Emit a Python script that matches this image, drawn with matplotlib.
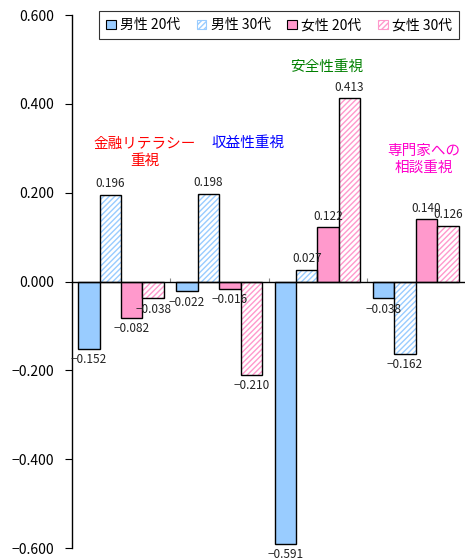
import matplotlib
matplotlib.use("Agg")
import matplotlib.pyplot as plt
import numpy as np
from matplotlib.patches import Patch

plt.rcParams['font.family'] = ['Noto Sans CJK JP', 'DejaVu Sans']

categories = ["金融リテラシー\n重視", "収益性重視", "安全性重視", "専門家への\n相談重視"]
cat_colors = ["#FF0000", "#0000FF", "#008000", "#FF00CC"]
cat_label_x = [0.74, 1.787, 2.59, 3.58]
cat_label_y = [0.29, 0.312, 0.483, 0.276]
series = ["男性 20代", "男性 30代", "女性 20代", "女性 30代"]
values = {
    "男性 20代": [-0.152, -0.022, -0.591, -0.038],
    "男性 30代": [0.196, 0.198, 0.027, -0.162],
    "女性 20代": [-0.082, -0.016, 0.122, 0.140],
    "女性 30代": [-0.038, -0.210, 0.413, 0.126],
}
face = ["#99CCFF", "white", "#FF99CC", "white"]
hatch_col = [None, "#99CCFF", None, "#FF99CC"]
yticks = [0.6, 0.4, 0.2, 0.0, -0.2, -0.4, -0.6]

fig = plt.figure(figsize=(4.65, 5.6), dpi=100)
ax = fig.add_axes([0.155, 0.0214, 0.845, 0.9516])
ax.set_xlim(0, 4)
ax.set_ylim(-0.6, 0.6)

bw = 0.218
start = 0.062
x = np.arange(len(categories))
for i, s in enumerate(series):
    pos = x + start + bw * i + bw / 2
    vals = values[s]
    if hatch_col[i] is None:
        ax.bar(pos, vals, width=bw, color=face[i], edgecolor="black", linewidth=1.0, zorder=3)
    else:
        ax.bar(pos, vals, width=bw, color="white", edgecolor=hatch_col[i], hatch="//////",
               linewidth=0, zorder=3)
        ax.bar(pos, vals, width=bw, color="none", edgecolor="black", linewidth=1.0, zorder=4)
    for p, v in zip(pos, vals):
        if v >= 0:
            ax.annotate(f"{v:.3f}", (p, v), xytext=(0, 3), textcoords="offset points",
                        ha="center", va="bottom", fontsize=8.5, color="#222222", zorder=6)
        else:
            ax.annotate(f"{v:.3f}".replace("-", "−"), (p, v), xytext=(0, -3),
                        textcoords="offset points", ha="center", va="top", fontsize=8.5,
                        color="#222222", zorder=6)

for c, col, xx, yy in zip(categories, cat_colors, cat_label_x, cat_label_y):
    ax.text(xx, yy, c, ha="center", va="center", color=col, fontsize=10.5,
            linespacing=1.25, zorder=6)

handles = [
    Patch(facecolor=face[0], edgecolor="black", linewidth=0.8),
    Patch(facecolor="white", edgecolor=hatch_col[1], hatch="//////", linewidth=0.8),
    Patch(facecolor=face[2], edgecolor="black", linewidth=0.8),
    Patch(facecolor="white", edgecolor=hatch_col[3], hatch="//////", linewidth=0.8),
]
leg = ax.legend(handles, series, loc="upper right", bbox_to_anchor=(0.985, 1.007), ncol=4,
                fontsize=10, frameon=True, fancybox=False, edgecolor="black",
                handlelength=0.7, handleheight=0.7, handletextpad=0.3, columnspacing=1.2,
                borderpad=0.5, borderaxespad=0.0)
leg.get_frame().set_linewidth(0.8)

for sp in ["top", "right"]:
    ax.spines[sp].set_visible(False)
ax.spines["bottom"].set_position(("data", 0))
ax.spines["bottom"].set_linewidth(1.0)
ax.spines["bottom"].set_zorder(5)
ax.spines["left"].set_linewidth(1.0)
ax.set_yticks(yticks)
ax.set_yticklabels([f"{t:.3f}".replace("-", "−") for t in yticks], fontsize=10)
ax.tick_params(axis="y", direction="out", length=5, pad=8)
ax.set_xticks([1, 2, 3])
ax.set_xticklabels([])
ax.tick_params(axis="x", direction="in", length=3, color="#888888")

fig.savefig("out.png", dpi=100)
